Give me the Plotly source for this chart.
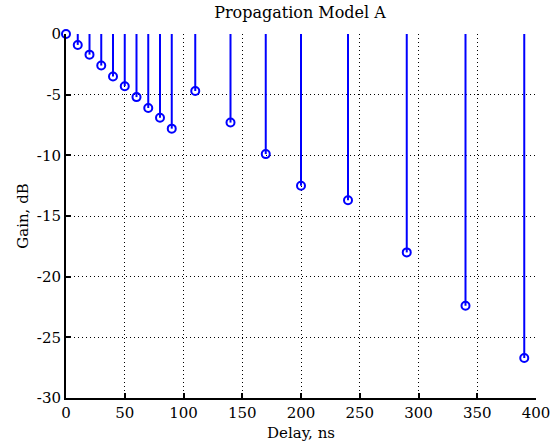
import plotly.graph_objects as go

delay_ns = [0, 10, 20, 30, 40, 50, 60, 70, 80, 90, 110, 140, 170, 200, 240, 290, 340, 390]
gain_db = [0, -0.9, -1.7, -2.6, -3.5, -4.3, -5.2, -6.1, -6.9, -7.8,
           -4.7, -7.3, -9.9, -12.5, -13.7, -18.0, -22.4, -26.7]
x_ticks = [0, 50, 100, 150, 200, 250, 300, 350, 400]
x_tick_labels = ["0", "50", "100", "150", "200", "250", "300", "350", "400"]
y_ticks = [0, -5, -10, -15, -20, -25, -30]
y_tick_labels = ["0", "-5", "-10", "-15", "-20", "-25", "-30"]

stem_x, stem_y = [], []
for d, g in zip(delay_ns, gain_db):
    stem_x += [d, d, None]
    stem_y += [0, g, None]

BLUE = "#0000ff"
FONT = "DejaVu Serif"
FS = 15

fig = go.Figure()
fig.add_trace(go.Scatter(x=stem_x, y=stem_y, mode="lines",
                         line=dict(color=BLUE, width=2), hoverinfo="skip",
                         showlegend=False, cliponaxis=False))
fig.add_trace(go.Scatter(x=delay_ns, y=gain_db, mode="markers",
                         marker=dict(symbol="circle-open", size=8, color=BLUE,
                                     line=dict(width=2, color=BLUE)),
                         showlegend=False, cliponaxis=False))

grid = dict(showgrid=True, gridcolor="black", griddash="1px,3px", gridwidth=1)
fig.update_layout(
    width=553, height=448,
    margin=dict(l=66, r=17, t=34, b=50, autoexpand=False),
    paper_bgcolor="white", plot_bgcolor="white",
    font=dict(family=FONT, size=FS, color="black"),
    title=dict(text="Propagation Model A", x=0.5425, xanchor="center",
               y=0.973, yanchor="middle", font=dict(family=FONT, size=16, color="black")),
    xaxis=dict(range=[0, 400], tickvals=x_ticks, ticktext=x_tick_labels,
               ticks="inside", ticklen=5, tickwidth=2, tickcolor="black",
               showline=True, linecolor="black", linewidth=2, automargin=False,
               zeroline=False, title=dict(text="Delay, ns", standoff=6,
                                          font=dict(family=FONT, size=FS)),
               tickfont=dict(family=FONT, size=FS), **grid),
    yaxis=dict(range=[-30, 0], tickvals=y_ticks, ticktext=y_tick_labels,
               ticks="inside", ticklen=5, tickwidth=2, tickcolor="black",
               showline=True, linecolor="black", linewidth=2, automargin=False,
               zeroline=False, title=dict(text="Gain, dB", standoff=5,
                                          font=dict(family=FONT, size=FS)),
               tickfont=dict(family=FONT, size=FS), **grid),
)

fig.write_html("out.html")
